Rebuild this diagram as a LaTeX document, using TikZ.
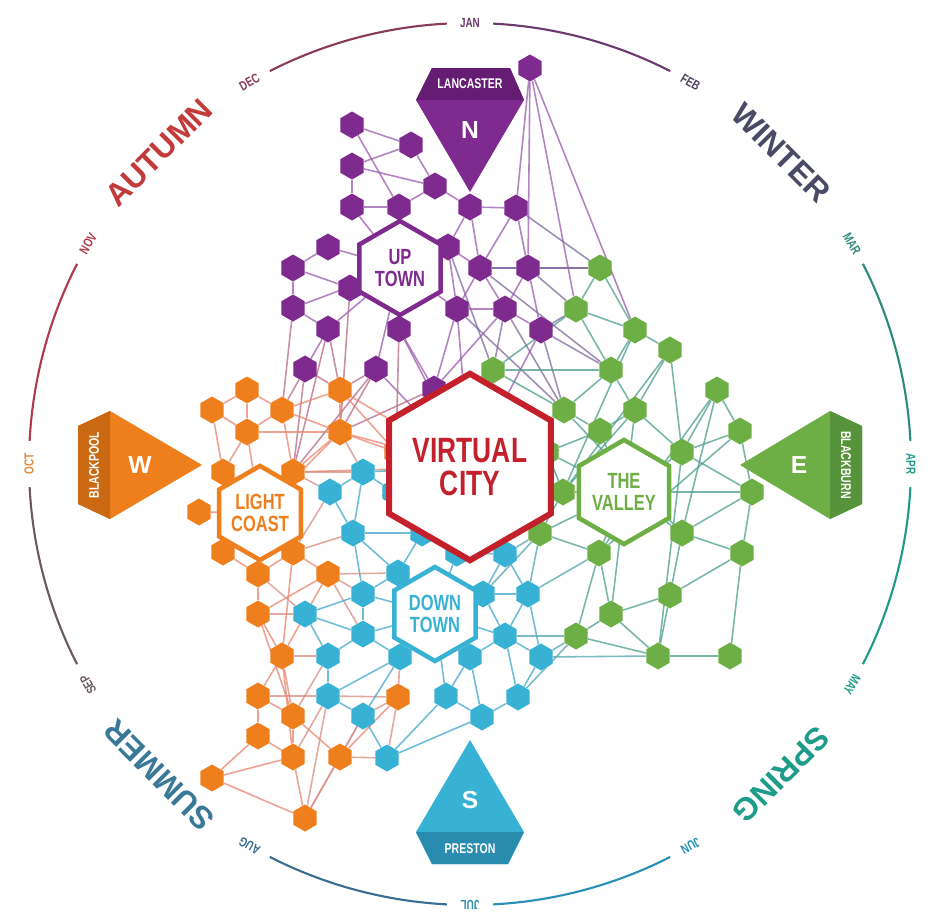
\documentclass[tikz,border=0pt]{standalone}
\usepackage{fontspec}
\setmainfont{Liberation Sans}
\newfontfamily\condfont[FakeStretch=0.75]{Liberation Sans}
\usepackage{tikz}
\usetikzlibrary{shapes.geometric, backgrounds, calc}
\definecolor{vpurple}{HTML}{7E2A8E}
\definecolor{vpurpledk}{HTML}{651C73}
\definecolor{vgreen}{HTML}{6DAF44}
\definecolor{vgreendk}{HTML}{57933A}
\definecolor{vorange}{HTML}{EE7F1C}
\definecolor{vorangedk}{HTML}{CB6912}
\definecolor{vblue}{HTML}{38B2D4}
\definecolor{vbluedk}{HTML}{2A8CAE}
\definecolor{vred}{HTML}{C3202B}
\definecolor{lpurple}{HTML}{9A5AAE}
\definecolor{lorange}{HTML}{E9856E}
\definecolor{lblue}{HTML}{3FA8CC}
\definecolor{lgreen}{HTML}{4C9E8E}
\definecolor{lmix}{HTML}{7E6A9E}
\definecolor{lwarm}{HTML}{B86A88}
\definecolor{lcool}{HTML}{4FA4B0}
\definecolor{lsalmon}{HTML}{D98C84}
\definecolor{cjan}{HTML}{6B3A6E}
\definecolor{cfeb}{HTML}{4F4263}
\definecolor{cmar}{HTML}{2E8A7A}
\definecolor{capr}{HTML}{1F9A8A}
\definecolor{cmay}{HTML}{1F9A8A}
\definecolor{cjun}{HTML}{2A8FB8}
\definecolor{cjul}{HTML}{2A8FB0}
\definecolor{caug}{HTML}{3A6E90}
\definecolor{csep}{HTML}{6A5A60}
\definecolor{coct}{HTML}{E08A3A}
\definecolor{cnov}{HTML}{B03A48}
\definecolor{cdec}{HTML}{8A3A5A}
\definecolor{cautumn}{HTML}{C33A3A}
\definecolor{cwinter}{HTML}{4A4A66}
\definecolor{cspring}{HTML}{1E9C8A}
\definecolor{csummer}{HTML}{3A7898}

\begin{document}
\begin{tikzpicture}[
    x=0.2mm, y=-0.2mm,
    cell/.style={regular polygon, regular polygon sides=6, shape border rotate=30, minimum size=5.4mm, inner sep=0pt, fill=#1},
    hub/.style={regular polygon, regular polygon sides=6, shape border rotate=30, minimum size=18.8mm, inner sep=0pt, draw=#1, line width=0.9mm, fill=white, text=#1, align=center, font=\condfont\bfseries\fontsize{12.5}{13}\selectfont},
    link/.style={line width=0.9pt, draw=#1, opacity=0.75},
    month/.style={text=#1, font=\condfont\bfseries\fontsize{7.5}{7.5}\selectfont},
    season/.style={text=#1, font=\bfseries\fontsize{18}{18}\selectfont},
    ring/.style={line width=1.2pt, draw=#1},
    gatename/.style={text=white, font=\condfont\bfseries\fontsize{8}{8}\selectfont},
    gateletter/.style={text=white, font=\bfseries\fontsize{14}{14}\selectfont}
]
\useasboundingbox (0,0) rectangle (933,916);

% Year ring
\foreach \s/\e/\col in {117/93/cdec, 87/63/cjan, 27/3/cmar, -3/-27/capr, -63/-87/cjun, -93/-117/caug, 207/183/csep, 177/153/cnov}
    \draw[ring=\col] ({470+441*cos(\s)},{464-441*sin(\s)}) arc[start angle={-(\s)}, end angle={-(\e)}, radius=441];

% Months
\foreach \m/\ang/\col in {JAN/90/cjan, FEB/60/cfeb, MAR/30/cmar, APR/0/capr, MAY/-30/cmay, JUN/-60/cjun, JUL/-90/cjul, AUG/-120/caug, SEP/-150/csep, OCT/180/coct, NOV/150/cnov, DEC/120/cdec}
    \node[month=\col, rotate=\ang-90] (m\m) at ({470+441*cos(\ang)},{464-441*sin(\ang)}) {\m};

% Seasons
\node[season=cautumn, rotate=45] (autumn) at ({470+440*cos(135)},{464-440*sin(135)}) {AUTUMN};
\node[season=cwinter, rotate=-45] (winter) at ({470+440*cos(45)},{464-440*sin(45)}) {WINTER};
\node[season=cspring, rotate=-135] (spring) at ({470+440*cos(-45)},{464-440*sin(-45)}) {SPRING};
\node[season=csummer, rotate=135] (summer) at ({470+440*cos(225)},{464-440*sin(225)}) {SUMMER};

% Purple cells
\foreach \n/\px/\py in {pa/530/68, p1/352/125, p2/411/145, p3/352/166, p4/435/186, p5/352/207, p6/399/207, p7/470/207, p8/516/208, p9/328/247, p10/448/247, p11/293/268, p12/480/268, p13/528/268, p14/350/288, p15/293/308, p16/457/309, p17/505/309, p18/328/329, p19/399/329, p20/541/330, p21/305/369, p22/376/369, p23/434/389}
    \node[cell=vpurple] (\n) at (\px,\py) {};

% Green cells
\foreach \n/\px/\py in {g1/600/268, g2/576/309, g3/635/330, g4/670/350, g5/493/370, g6/611/370, g7/717/390, g8/564/410, g9/635/410, g10/600/431, g11/740/431, g12/547/452, g13/682/452, g14/563/492, g15/752/492, g16/540/533, g17/682/533, g18/599/553, g19/742/553, g20/670/595, g21/611/614, g22/576/636, g23/658/656, g24/730/656}
    \node[cell=vgreen] (\n) at (\px,\py) {};

% Orange cells
\foreach \n/\px/\py in {o1/247/390, o2/340/390, o3/212/410, o4/282/410, o5/247/432, o6/340/432, o7/396/452, o8/223/472, o9/293/472, o10/199/512, o11/223/552, o12/293/552, o13/258/574, o14/328/574, o15/258/614, o16/282/656, o17/258/696, o18/398/697, o19/293/716, o20/258/736, o21/293/757, o22/340/757, o23/212/778, o24/305/818}
    \node[cell=vorange] (\n) at (\px,\py) {};

% Blue cells
\foreach \n/\px/\py in {b1/363/472, b2/330/492, b3/394/492, b4/353/533, b5/422/533, b6/457/553, b7/505/554, b8/398/573, b9/363/594, b10/483/594, b11/528/594, b12/305/614, b13/363/634, b14/505/636, b15/328/656, b16/400/657, b17/470/657, b18/541/657, b19/328/696, b20/446/696, b21/518/697, b22/363/716, b23/482/717, b24/387/758}
    \node[cell=vblue] (\n) at (\px,\py) {};

% Districts
\node[hub=vpurple] (uptown) at (400,268) {UP\\TOWN};
\node[hub=vorange] (lcoast) at (260,513) {LIGHT\\COAST};
\node[hub=vgreen] (valley) at (624,492) {THE\\VALLEY};
\node[hub=vblue] (dtown) at (435,614) {DOWN\\TOWN};
\node[hub=vred, minimum size=32mm, line width=1.2mm, font=\condfont\bfseries\fontsize{20}{19}\selectfont] (vcity) at (470,467) {VIRTUAL\\CITY};

% Gateways
\fill[vpurple] (432,68) -- (510,68) -- (524,100) -- (470,192) -- (416,100) -- cycle;
\fill[vpurpledk] (432,68) -- (510,68) -- (524,100) -- (416,100) -- cycle;
\node[gatename] (lancaster) at (470,84) {LANCASTER};
\node[gateletter] (north) at (470,130) {N};

\fill[vorange] (78,426) -- (78,504) -- (110,519) -- (202,465) -- (110,411) -- cycle;
\fill[vorangedk] (78,426) -- (78,504) -- (110,519) -- (110,411) -- cycle;
\node[gatename, rotate=90] (blackpool) at (94,465) {BLACKPOOL};
\node[gateletter] (west) at (140,465) {W};

\fill[vgreen] (862,426) -- (862,504) -- (830,519) -- (740,465) -- (830,411) -- cycle;
\fill[vgreendk] (862,426) -- (862,504) -- (830,519) -- (830,411) -- cycle;
\node[gatename, rotate=-90] (blackburn) at (846,465) {BLACKBURN};
\node[gateletter] (east) at (799,465) {E};

\fill[vblue] (470,740) -- (524,832) -- (508,864) -- (432,864) -- (416,832) -- cycle;
\fill[vbluedk] (416,832) -- (524,832) -- (508,864) -- (432,864) -- cycle;
\node[gatename] (preston) at (470,849) {PRESTON};
\node[gateletter] (south) at (470,800) {S};

% Links
\begin{scope}[on background layer]
\fill[white] (0,0) rectangle (933,916);
\foreach \a/\b in {pa/p8, pa/p13, pa/g2, pa/g3, p1/p2, p1/p6, p2/p3, p3/p4, p3/p5, p2/p4, p4/p6, p4/p7, p5/p6, p5/uptown, p6/uptown, p7/p8, p7/p10, p7/p12, p8/p12, p8/p13, p10/uptown, p10/p12, p10/p16, p12/p13, p12/p16, p12/p17, p13/p17, p13/p20, p16/p17, p17/p20, p9/uptown, p9/p11, p11/p14, p14/uptown, p11/p15, p15/uptown, p15/p18, p18/uptown, p19/uptown, p19/p23, p16/uptown, p16/p23, p17/p23, p22/uptown, p21/p18, p20/vcity, p16/vcity, p23/vcity, p19/vcity, p22/vcity}
    \draw[link=lpurple] (\a) -- (\b);
\foreach \a/\b in {p8/g1, p12/g1, p13/g1, p13/g2, p20/g2, p17/g5, p20/g8, p16/g8, p10/g5, p20/g6, p17/g8, p12/g6}
    \draw[link=lmix] (\a) -- (\b);
\foreach \a/\b in {p21/o2, p22/o2, p22/o6, p18/o2, p15/o4, p21/o4, p14/o6, p18/o9, p19/o7, p21/o9, p23/o6, p22/o9}
    \draw[link=lwarm] (\a) -- (\b);
\foreach \a/\b in {o1/o3, o1/o4, o1/o5, o3/o5, o4/o5, o2/o4, o2/o6, o5/o6, o4/o6, o5/o8, o4/o9, o6/o9, o6/o7, o2/o7, o3/o8, o8/lcoast, o9/lcoast, o10/lcoast, o11/lcoast, o12/lcoast, o5/lcoast, o6/lcoast, o11/o13, o12/o13, o12/o14, o13/o15, o14/o15, o14/o16, o15/o16, o16/o17, o16/o19, o17/o19, o17/o20, o19/o21, o20/o21, o20/o23, o21/o23, o21/o24, o22/o24, o23/o24, o19/o22, o18/o22, o16/o21, o15/o19, o7/vcity, o2/vcity, o6/vcity, o9/vcity, o12/o16}
    \draw[link=lorange] (\a) -- (\b);
\foreach \a/\b in {o9/b1, o9/b2, o12/b4, o14/b9, o14/b8, o15/b12, o16/b15, o12/b2, o13/b12, o17/b19, b19/o18, o21/b19, o22/b22, o24/b22, o24/b19, o22/b24, o18/b16, o18/b22, o18/b24, o6/b1, o7/b3, o14/b13, o19/b15}
    \draw[link=lsalmon] (\a) -- (\b);
\foreach \a/\b in {b1/b2, b1/b3, b2/b4, b1/b4, b4/b5, b3/b5, b5/b6, b5/b8, b4/b8, b4/b9, b8/b9, b8/dtown, b6/dtown, b6/b7, b7/b11, b7/b10, b10/dtown, b10/b11, b10/b14, b11/b14, b11/b18, b14/b17, b14/b18, b14/dtown, b17/dtown, b16/dtown, b9/b13, b12/b13, b12/b15, b13/b16, b13/b15, b15/b19, b16/b19, b19/b22, b22/b24, b16/b22, b17/b20, b17/b23, b20/b23, b21/b23, b18/b21, b14/b21, b20/dtown, b20/b24, b23/b24, b3/vcity, b5/vcity, b6/vcity, b7/vcity, b1/vcity, b13/dtown, b9/dtown, b12/b9}
    \draw[link=lblue] (\a) -- (\b);
\foreach \a/\b in {b7/g16, b11/g16, b18/g22, b14/g22, b18/g23, b11/g18, b21/g22, b10/g16}
    \draw[link=lcool] (\a) -- (\b);
\foreach \a/\b in {g1/g2, g1/g3, g2/g3, g2/g5, g2/g6, g3/g4, g3/g6, g4/g9, g4/g13, g5/g6, g5/g8, g6/g8, g6/g9, g8/g10, g9/g10, g8/vcity, g9/g13, g7/g11, g7/g13, g11/g13, g11/g15, g10/valley, g12/valley, g12/g10, g13/valley, g14/valley, g15/valley, g15/g17, g15/g19, g16/valley, g17/valley, g17/g19, g17/g20, g18/valley, g18/g21, g16/g18, g18/g22, g20/g21, g20/g23, g21/g22, g21/g23, g22/g23, g19/g20, g19/g24, g23/g24, g12/vcity, g14/vcity, g16/vcity, g5/vcity, g7/g18, g11/g18, g9/g21, g13/g23, g4/g14, g3/g14, g8/g17, g13/g15, g7/g17, g9/g14, g14/g16, g12/g14}
    \draw[link=lgreen] (\a) -- (\b);
\end{scope}

\end{tikzpicture}
\end{document}
